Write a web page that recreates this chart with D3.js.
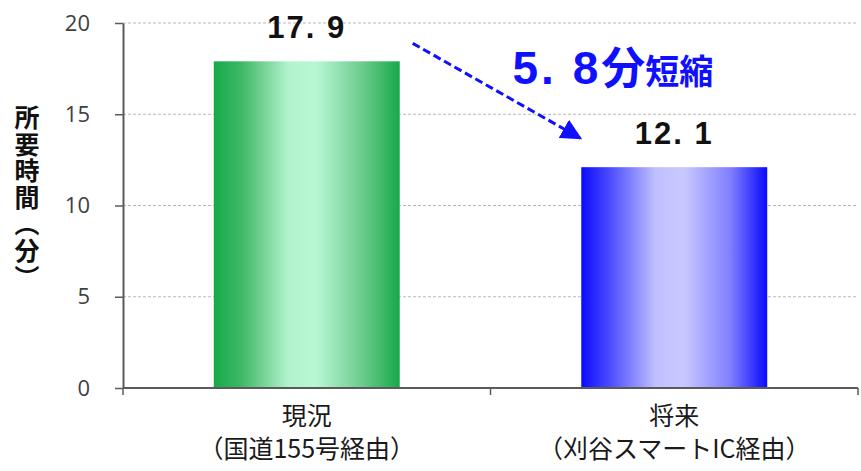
<!DOCTYPE html>
<html>
<head>
<meta charset="utf-8">
<script src="https://cdn.jsdelivr.net/npm/d3@7"></script>
<style>
  body { margin: 0; background: #fff; }
  svg { display: block; }
</style>
</head>
<body>
<div class="box"></div>
<script>
const categories = ["現況", "将来"];
const subLabels = ["（国道155号経由）", "（刈谷スマートIC経由）"];
const values = [17.9, 12.1];
const valueLabels = ["17. 9", "12. 1"];
const yTicks = [0, 5, 10, 15, 20];
const yTitle = "所要時間（分）";
const diffNumber = "5. 8";
const diffUnit = "分";
const diffWord = "短縮";

const W = 861, H = 471;
const margin = { top: 23, right: 3, bottom: 83, left: 123 };
const width = W - margin.left - margin.right;
const height = H - margin.top - margin.bottom;

let svg = d3.select(".box").append("svg")
  .attr("width", W)
  .attr("height", H);

// gradients for the two bars
let defs = svg.append("defs");
const grads = [
  { id: "g0", stops: [[0, "#17a94a"], [0.15, "#3fb866"], [0.4, "#b2f2cd"], [0.55, "#b8f8d4"], [0.8, "#6bcb8d"], [1, "#17a94a"]] },
  { id: "g1", stops: [[0, "#0a0aff"], [0.15, "#4a4aff"], [0.4, "#c0c0ff"], [0.55, "#c9c9ff"], [0.8, "#8080ff"], [1, "#0a0aff"]] }
];
grads.forEach(g => {
  let lg = defs.append("linearGradient").attr("id", g.id)
    .attr("x1", "0").attr("x2", "1").attr("y1", "0").attr("y2", "0");
  g.stops.forEach(s => lg.append("stop").attr("offset", s[0]).attr("stop-color", s[1]));
});
defs.append("marker").attr("id", "arrow")
  .attr("viewBox", "0 0 10 10").attr("refX", 9).attr("refY", 5)
  .attr("markerWidth", 7).attr("markerHeight", 7)
  .attr("markerUnits", "strokeWidth")
  .attr("orient", "auto")
  .append("path").attr("d", "M0,0 L10,5 L0,10 z").attr("fill", "#1010ff");

let g = svg.append("g").attr("transform", `translate(${margin.left},${margin.top})`);

let x = d3.scaleBand().domain(categories).range([0, width])
  .paddingInner(0.494).paddingOuter(0.247);
let y = d3.scaleLinear().domain([0, 20]).range([height, 0]);

// gridlines
g.selectAll(".grid").data(yTicks.filter(d => d > 0)).enter().append("line")
  .attr("x1", 0).attr("x2", width)
  .attr("y1", d => y(d)).attr("y2", d => y(d))
  .attr("stroke", "#b8b8b8").attr("stroke-width", 1)
  .attr("stroke-dasharray", "3,2");

// bars
g.selectAll(".bar").data(values).enter().append("rect")
  .attr("x", (d, i) => x(categories[i]))
  .attr("width", x.bandwidth())
  .attr("y", d => y(d))
  .attr("height", d => height - y(d))
  .attr("fill", (d, i) => `url(#g${i})`);

// y axis
let yAxis = g.append("g")
  .call(d3.axisLeft(y).tickValues(yTicks).tickSize(8).tickSizeOuter(0).tickPadding(25));
yAxis.select(".domain").attr("stroke", "#5a5a5a").attr("stroke-width", 2);
yAxis.selectAll(".tick line").attr("stroke", "#5a5a5a").attr("stroke-width", 1.5);
yAxis.selectAll(".tick text")
  .attr("font-family", "'Open Sans', 'DejaVu Sans', sans-serif")
  .attr("font-size", 22).attr("fill", "#404040");

// x axis: baseline and ticks at band boundaries
let xAxis = g.append("g").attr("transform", `translate(0,${height})`);
xAxis.append("line").attr("x1", 0).attr("x2", width)
  .attr("stroke", "#5a5a5a").attr("stroke-width", 2);
let bounds = [0].concat(categories.map(c => x(c) + x.bandwidth() + x.step() * x.paddingInner() / 2));
bounds[bounds.length - 1] = width;
xAxis.selectAll(".xt").data(bounds).enter().append("line")
  .attr("x1", d => d).attr("x2", d => d)
  .attr("y1", 0).attr("y2", 7)
  .attr("stroke", "#5a5a5a").attr("stroke-width", 1.5);

// category labels
const cjk = "'Noto Sans CJK JP', sans-serif";
const latin = "'Liberation Sans', Arial, sans-serif";
categories.forEach((c, i) => {
  let cx = x(c) + x.bandwidth() / 2;
  xAxis.append("text").attr("x", cx).attr("y", 37)
    .attr("text-anchor", "middle").attr("font-family", cjk)
    .attr("font-size", 25).attr("fill", "#1a1a1a").text(c);
  xAxis.append("text").attr("x", cx).attr("y", 70)
    .attr("text-anchor", "middle").attr("font-family", cjk)
    .attr("font-size", 25).attr("fill", "#1a1a1a").text(subLabels[i]);
});

// value labels
g.selectAll(".val").data(values).enter().append("text")
  .attr("x", (d, i) => x(categories[i]) + x.bandwidth() / 2)
  .attr("y", d => y(d) - 23)
  .attr("text-anchor", "middle")
  .attr("font-family", latin)
  .attr("font-weight", "bold")
  .attr("letter-spacing", 2)
  .attr("font-size", 31).attr("fill", "#111")
  .text((d, i) => valueLabels[i]);

// y title, vertical writing
svg.append("text")
  .attr("x", 27).attr("y", 105)
  .style("writing-mode", "vertical-rl")
  .attr("letter-spacing", 1.6)
  .attr("font-family", cjk)
  .attr("font-weight", "bold")
  .attr("font-size", 25).attr("fill", "#111")
  .text(yTitle);

// reduction arrow
let x0 = x(categories[0]) + x.bandwidth();
let x1 = x(categories[1]);
g.append("line")
  .attr("x1", x0 + 13).attr("y1", y(values[0]) - 18)
  .attr("x2", x1 - 1).attr("y2", y(values[1]) - 29)
  .attr("stroke", "#1010ff").attr("stroke-width", 3)
  .attr("stroke-dasharray", "8,4")
  .attr("marker-end", "url(#arrow)");

// reduction label
let midX = (x0 + x1) / 2;
let lbl = g.append("text")
  .attr("x", midX + 22).attr("y", y(values[0]) + 23)
  .attr("fill", "#1010ff").attr("font-weight", "bold");
lbl.append("tspan").attr("font-family", latin)
  .attr("letter-spacing", 3)
  .attr("font-size", 46).text(diffNumber);
lbl.append("tspan").attr("font-family", cjk).attr("font-size", 44).text(diffUnit);
lbl.append("tspan").attr("font-family", cjk).attr("font-size", 34).text(diffWord);
</script>
</body>
</html>
